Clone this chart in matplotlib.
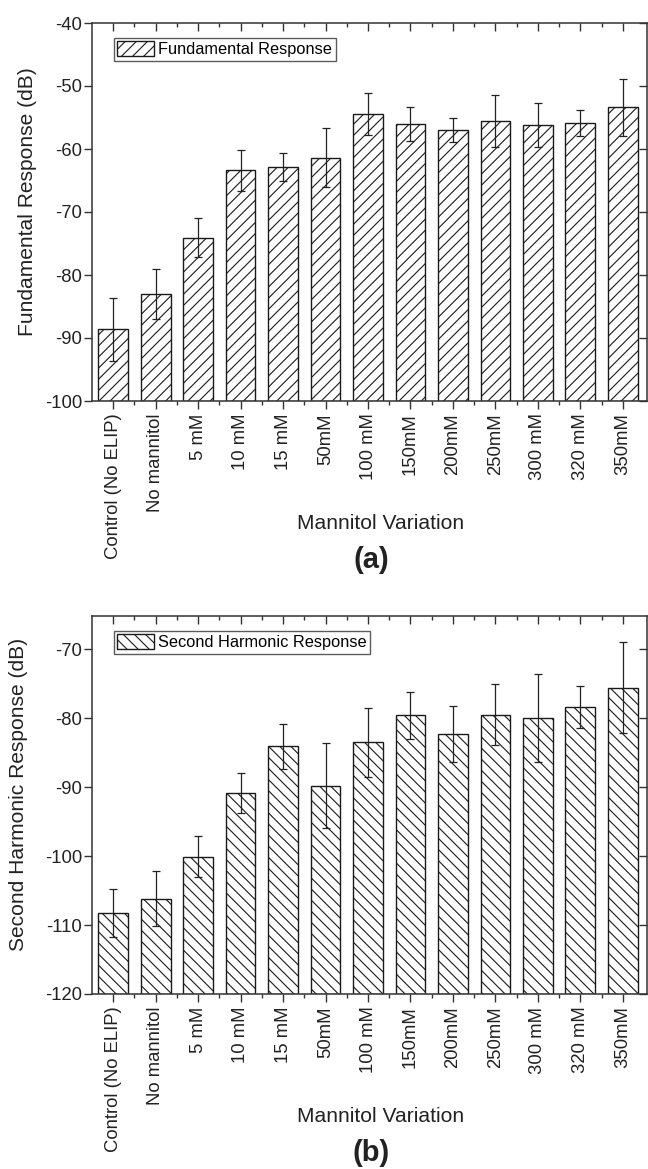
import numpy as np
import matplotlib
matplotlib.use("Agg")
import matplotlib.pyplot as plt
from matplotlib.ticker import MultipleLocator

plt.rcParams['font.family'] = ['Liberation Sans', 'DejaVu Sans']
plt.rcParams['axes.unicode_minus'] = False
plt.rcParams['hatch.linewidth'] = 0.8
plt.rcParams['hatch.color'] = '#1a1a1a'

# categories on the x axis
labels = ['Control (No ELIP)', 'No mannitol', '5 mM', '10 mM', '15 mM', '50mM',
          '100 mM', '150mM', '200mM', '250mM', '300 mM', '320 mM', '350mM']

# (a) fundamental response, dB
fund_mean = [-88.6, -83.0, -74.1, -63.4, -62.9, -61.4, -54.4, -56.1, -57.0, -55.6, -56.2, -55.9, -53.4]
fund_err = [5.0, 4.0, 3.1, 3.3, 2.2, 4.7, 3.3, 2.7, 1.9, 4.1, 3.5, 2.1, 4.5]

# (b) second harmonic response, dB
harm_mean = [-108.3, -106.2, -100.1, -90.9, -84.1, -89.8, -83.5, -79.6, -82.3, -79.5, -80.0, -78.4, -75.6]
harm_err = [3.5, 4.0, 3.0, 2.9, 3.25, 6.2, 5.0, 3.4, 4.0, 4.45, 6.4, 3.05, 6.6]

W, H = 648, 1169
fig = plt.figure(figsize=(W / 100, H / 100), dpi=100)
ax1 = fig.add_axes([92 / W, 1 - 401 / H, 555 / W, 378 / H])
ax2 = fig.add_axes([92 / W, 1 - 994 / H, 555 / W, 378 / H])


def draw(ax, mean, err, ymin, ymax, hatch, leg, ylab, ylab_x, tag):
    x = np.arange(len(labels))
    mean = np.array(mean)
    ax.bar(x, mean - ymin, bottom=ymin, width=0.7, color='white',
           edgecolor='#1a1a1a', linewidth=1.0, hatch=hatch, label=leg, zorder=2)
    ax.errorbar(x, mean, yerr=err, fmt='none', ecolor='#222222',
                elinewidth=0.9, capsize=3, capthick=0.9, zorder=3)
    ax.set_xlim(-0.5, 12.57)
    ax.set_ylim(ymin, ymax)
    ax.yaxis.set_major_locator(MultipleLocator(10))
    ax.set_xticks(x)
    ax.set_xticklabels(labels, rotation=90, fontsize=13.3, color='#222222')
    ax.set_xticks(x[:-1] + 0.5, minor=True)
    ax.tick_params(axis='y', labelsize=13.3, labelcolor='#222222', pad=1)
    ax.tick_params(axis='x', which='major', pad=3)
    ax.tick_params(bottom=True, left=True, direction='out', length=6,
                   width=1.0, color='#333333')
    ax.tick_params(which='minor', bottom=True, direction='out', length=3,
                   width=1.0, color='#333333')
    # mirrored ticks pointing inward on top and right
    top = ax.secondary_xaxis('top')
    top.set_xticks(x)
    top.set_xticks(x[:-1] + 0.5, minor=True)
    top.tick_params(which='major', direction='in', length=6, width=1.0,
                    color='#333333', labeltop=False)
    top.tick_params(which='minor', direction='in', length=3, width=1.0,
                    color='#333333')
    right = ax.secondary_yaxis('right')
    right.yaxis.set_major_locator(MultipleLocator(10))
    right.tick_params(direction='in', length=6, width=1.0, color='#333333',
                      labelright=False)
    for s in ax.spines.values():
        s.set_color('#333333')
        s.set_linewidth(1.1)
    top.spines['top'].set_visible(False)
    right.spines['right'].set_visible(False)

    ax.set_ylabel(ylab, fontsize=15.1, color='#222222', va='center')
    ax.yaxis.set_label_coords(ylab_x, 0.527)
    ax.set_xlabel('Mannitol Variation', fontsize=15.1, color='#222222', va='center')
    ax.xaxis.set_label_coords(0.52, -0.325)
    ax.text(0.503, -0.42, tag, transform=ax.transAxes, ha='center', va='center',
            fontsize=21, fontweight='bold', color='#222222')

    lg = ax.legend(loc='upper left', bbox_to_anchor=(0.04, 0.96), borderaxespad=0,
                   fontsize=11.8, frameon=True, fancybox=False, handlelength=2.2,
                   handleheight=1.0, handletextpad=0.3, borderpad=0.2)
    lg.get_frame().set_edgecolor('#333333')
    lg.get_frame().set_linewidth(1.0)


draw(ax1, fund_mean, fund_err, -100, -40, '///', 'Fundamental Response',
     'Fundamental Response (dB)', -0.117, '(a)')
draw(ax2, harm_mean, harm_err, -120, -65.2, '\\\\\\', 'Second Harmonic Response',
     'Second Harmonic Response (dB)', -0.133, '(b)')

fig.savefig('out.png', dpi=100)
